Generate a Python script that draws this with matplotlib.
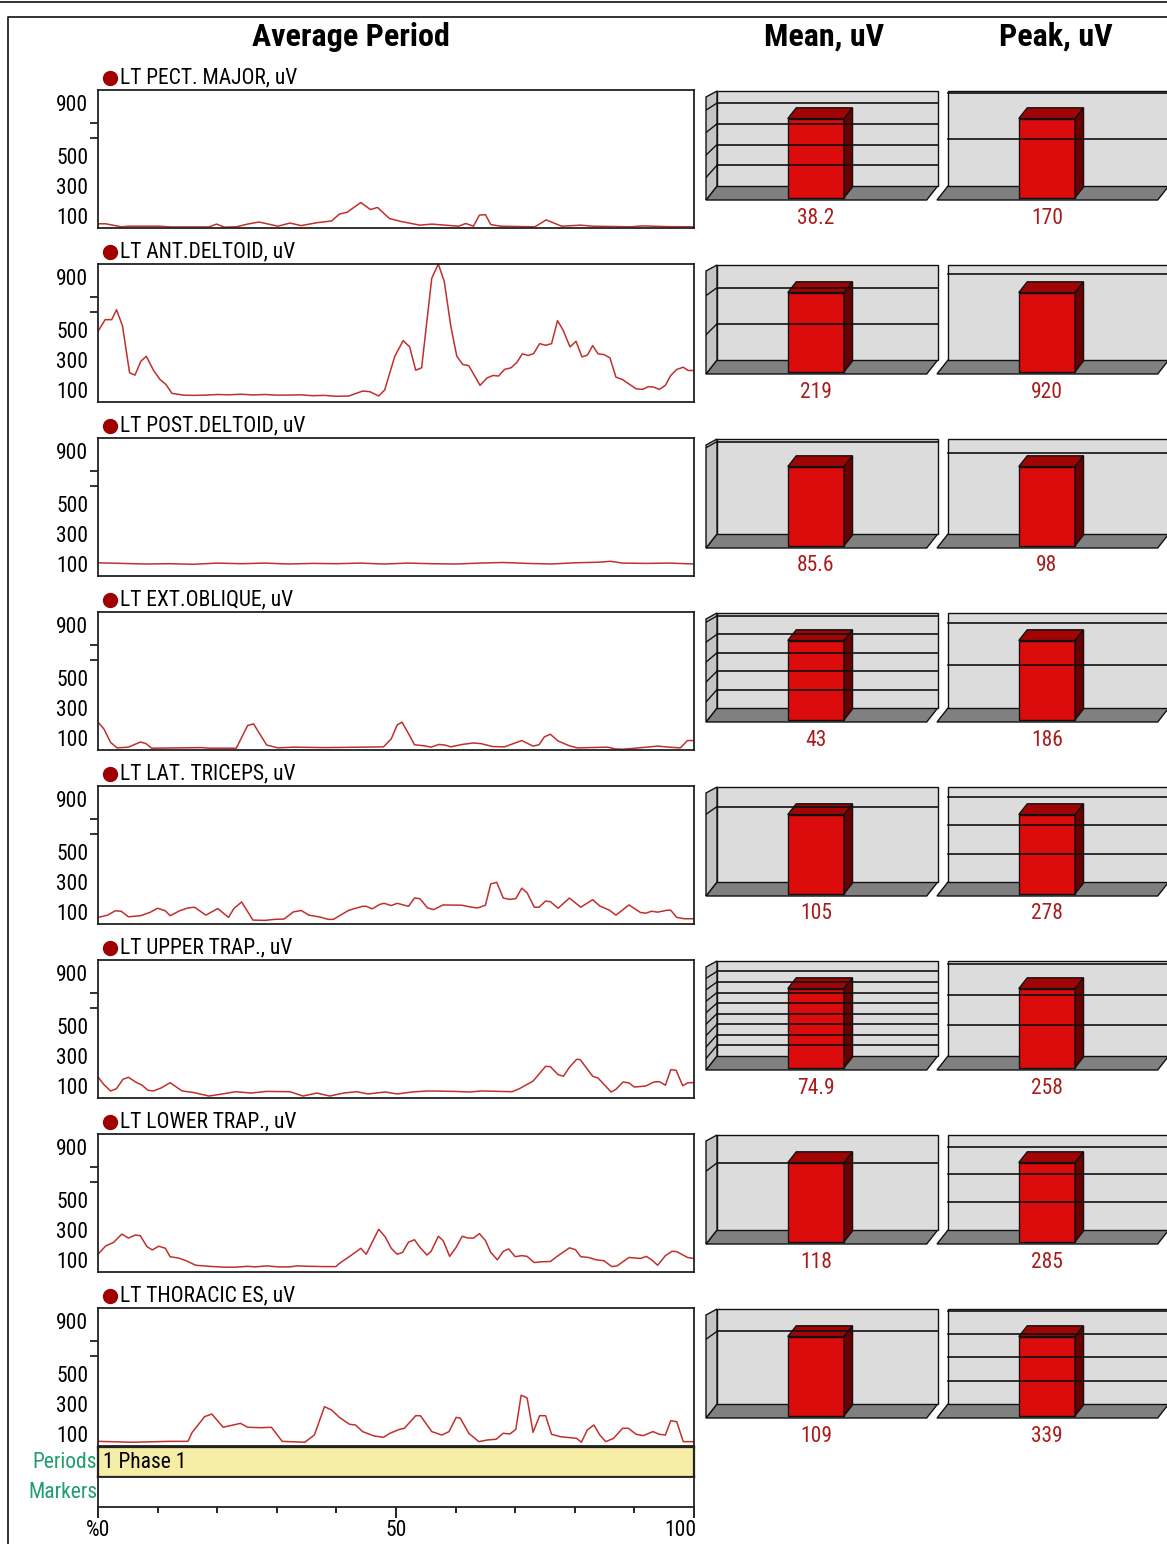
"""
EMG summary sheet: average-period traces per muscle with mean / peak 3-D bars.
"""
import numpy as np
import matplotlib
matplotlib.use("Agg")
import matplotlib.pyplot as plt  # noqa: E402
from matplotlib import font_manager as fm  # noqa: E402
from matplotlib.patches import Polygon  # noqa: E402
from matplotlib.lines import Line2D  # noqa: E402
from matplotlib.transforms import ScaledTranslation  # noqa: E402

# narrowest sans available: the original sheet uses a condensed Helvetica
_fonts = fm.fontManager.ttflist
_names = {f.name for f in _fonts}
FONT_TAG = "arial-like"
for cand in ["Liberation Sans Narrow", "Roboto Condensed", "Open Sans Condensed"]:
    if cand in _names:
        plt.rcParams["font.family"] = [cand, "DejaVu Sans"]
        FONT_TAG = "narrow"
        break
else:
    if any(f.name == "DejaVu Sans" and "ondensed" in f.fname for f in _fonts):
        plt.rcParams["font.family"] = ["DejaVu Sans"]
        plt.rcParams["font.stretch"] = "condensed"
        FONT_TAG = "dejavu-condensed"
    else:
        plt.rcParams["font.family"] = ["Liberation Sans", "DejaVu Sans"]

W, H = 1167, 1544

MUSCLES = ["LT PECT. MAJOR, uV", "LT ANT.DELTOID, uV", "LT POST.DELTOID, uV",
           "LT EXT.OBLIQUE, uV", "LT LAT. TRICEPS, uV", "LT UPPER TRAP., uV",
           "LT LOWER TRAP., uV", "LT THORACIC ES, uV"]
MEAN_UV = [38.2, 219, 85.6, 43, 105, 74.9, 118, 109]
PEAK_UV = [170, 920, 98, 186, 278, 258, 285, 339]
MEAN_TXT = ["38.2", "219", "85.6", "43", "105", "74.9", "118", "109"]
PEAK_TXT = ["170", "920", "98", "186", "278", "258", "285", "339"]

# average-period traces, % of period vs uV
PECT_X = [0, 1.3, 3.9, 5.1, 10.3, 12.2, 18.6, 19.9, 21.2, 23.2, 25.1, 27, 30.2, 32.2,
          34.1, 36.7, 39.2, 40.5, 41.8, 44.1, 45.7, 46.9, 48.9, 50.8, 54, 56, 60.5,
          61.7, 63, 64, 65, 65.9, 67.5, 73.3, 75.2, 77.8, 81, 83, 89.4, 91.3, 95.8, 100]
PECT_Y = [28, 28, 8, 12, 12, 7, 7, 26, 6, 8, 26, 40, 12, 33, 16, 35, 47, 93, 105, 170,
          123, 137, 63, 44, 19, 26, 12, 30, 12, 86, 89, 23, 12, 8, 54, 12, 19, 12, 8, 14, 9, 8]

ANT_X = [0, 1.2, 2.3, 3.1, 4.1, 5.3, 6.2, 7.2, 8.1, 9.3, 10.4, 11.4, 12.4, 14.3, 16, 18.1,
         20, 22, 24, 26, 28, 30, 32, 34, 36, 38, 40, 42.1, 44.4, 45.6, 47.1, 48.1, 49.8,
         51.2, 52.3, 53.3, 54.3, 56, 57.1, 58.1, 59.2, 60.2, 61.2, 62.2, 64.1, 65.3, 66.3,
         67.2, 68.2, 69.3, 70.3, 71.2, 72.2, 73.1, 74.1, 75.1, 76.1, 77.1, 78, 79.2, 80.2,
         81.2, 82.1, 83, 83.9, 84.9, 85.9, 86.9, 88, 89.2, 90.3, 91.4, 92.3, 93.2, 94.2,
         95.2, 96.1, 97.1, 98.2, 99, 100]
ANT_Y = [471, 549, 549, 615, 509, 195, 179, 272, 305, 212, 150, 117, 58, 46, 44, 46, 50,
         48, 52, 47, 50, 46, 46, 48, 42, 44, 38, 40, 73, 69, 40, 80, 305, 409, 367, 212,
         228, 825, 920, 803, 504, 305, 250, 243, 111, 161, 177, 173, 217, 228, 265, 321,
         310, 323, 389, 378, 389, 542, 482, 367, 405, 301, 312, 376, 321, 316, 294, 166,
         150, 117, 88, 84, 102, 100, 84, 111, 177, 217, 232, 210, 210]

POST_X = [0, 4, 8, 12, 16, 20, 24, 28, 32, 36, 40, 44, 48, 52, 56, 60, 64, 68, 72, 76,
          80, 84, 86, 88, 92, 96, 100]
POST_Y = [88, 84, 80, 82, 78, 86, 82, 86, 80, 84, 82, 86, 80, 86, 82, 80, 86, 90, 84, 80,
          88, 92, 98, 86, 84, 86, 80]

EXT_X = [0, 1, 2.1, 3.2, 5.1, 7.1, 8, 9, 17.4, 18.6, 23.2, 25.1, 26.1, 27, 28.3, 30.2,
         32.8, 37.9, 44.4, 47.9, 49.2, 50.2, 51, 52.1, 53.1, 54.7, 55.9, 57.2, 58.2, 59.2,
         61.1, 63, 64.3, 66.2, 68.2, 71.1, 73, 74, 74.9, 75.9, 77.2, 79.1, 80.4, 85.5,
         86.8, 88.1, 90.7, 93.9, 95.8, 97.7, 98.9, 100]
EXT_Y = [186, 140, 51, 14, 19, 53, 44, 12, 16, 12, 12, 163, 174, 116, 33, 14, 19, 16, 19,
         21, 74, 167, 186, 109, 35, 28, 19, 37, 33, 21, 37, 47, 42, 23, 21, 63, 26, 35,
         88, 105, 60, 28, 14, 19, 7, 5, 14, 26, 19, 14, 63, 63]

TRI_X = [0, 1.6, 2.9, 3.9, 5.1, 7.1, 8.7, 10, 11.3, 12.1, 13.8, 15.1, 16.2, 18.1, 20.1,
         21.9, 22.8, 24.1, 26, 28, 29.6, 31.2, 32.8, 34.1, 35.4, 37.3, 38.6, 39.5, 42.1,
         44.4, 45, 46, 47.3, 48, 49.2, 50.2, 52.1, 53.1, 54, 55.3, 56.3, 57.9, 61.1, 62.7,
         63.7, 65, 65.9, 66.9, 68, 69.1, 70.1, 71.1, 72, 73.2, 74, 75.1, 75.9, 77.2, 79.1,
         81, 83, 84.2, 85.8, 86.9, 89.1, 91, 91.9, 92.9, 93.9, 95.5, 96.1, 97.1, 98.4, 100]
TRI_Y = [44, 59, 88, 85, 48, 55, 77, 105, 88, 55, 90, 107, 112, 59, 103, 44, 103, 147, 26,
         24, 31, 33, 81, 90, 59, 46, 31, 31, 92, 118, 118, 101, 131, 138, 123, 138, 118,
         173, 169, 107, 96, 127, 125, 112, 107, 125, 267, 278, 173, 164, 169, 239, 208,
         112, 112, 153, 149, 105, 173, 112, 162, 120, 92, 59, 127, 77, 72, 85, 79, 92, 92,
         44, 35, 35]

UTRAP_X = [0, 1, 2.1, 3.1, 4.2, 5.1, 6.3, 7.4, 8.4, 9.3, 10.6, 12.1, 14.1, 16.1, 18.6,
           21.2, 23.1, 25.7, 28.3, 32.2, 34.4, 36.7, 38.9, 41.2, 43.4, 45.3, 48.2, 50.2,
           52.7, 55.3, 59.8, 62.4, 64.3, 69.5, 70.7, 73, 75.1, 75.9, 77.2, 78.1, 79.1,
           80.3, 80.9, 83, 83.9, 86.1, 86.9, 88.1, 89.1, 90, 91.9, 93.3, 94.2, 95.2, 96.1,
           97, 98.1, 99, 100]
UTRAP_Y = [140, 89, 47, 62, 125, 138, 107, 85, 51, 47, 67, 102, 47, 36, 13, 29, 42, 33,
           44, 42, 13, 33, 13, 33, 42, 27, 40, 27, 40, 47, 44, 40, 47, 42, 62, 113, 211,
           209, 156, 145, 205, 258, 256, 145, 133, 40, 58, 107, 100, 73, 80, 107, 109, 85,
           189, 185, 82, 102, 102]

LTRAP_X = [0, 1.3, 2.6, 4, 5.1, 6.3, 7.1, 8.2, 9.1, 10.2, 11.3, 12.1, 13.5, 14.8, 16.4,
           18.6, 21.2, 23.1, 25.1, 26.4, 28.3, 30.2, 32.2, 33.4, 35.4, 37.9, 39.9, 40.5,
           42.4, 44.1, 45, 47.1, 48.2, 49.2, 50.2, 51.1, 52.1, 53.1, 54, 55.2, 55.9, 57.1,
           57.9, 59, 60.1, 61.1, 62.1, 63, 64, 65, 65.9, 67, 68, 68.9, 70, 71.1, 72, 73.2,
           74.3, 75.9, 77.2, 79.1, 80.1, 81, 82.3, 83.6, 84.9, 86.2, 87.1, 89.1, 91, 92,
           92.9, 93.9, 95.2, 96.3, 97.1, 98.9, 100]
LTRAP_Y = [118, 174, 197, 253, 226, 247, 242, 170, 147, 172, 158, 102, 93, 75, 45, 38,
           32, 32, 38, 34, 41, 34, 34, 41, 38, 36, 36, 57, 109, 158, 118, 285, 233, 158,
           118, 131, 199, 215, 165, 113, 138, 238, 210, 104, 165, 238, 226, 226, 256, 210,
           131, 81, 138, 154, 102, 109, 104, 63, 68, 70, 109, 161, 149, 102, 97, 81, 75,
           36, 41, 97, 90, 104, 81, 45, 109, 138, 136, 97, 90]

THOR_X = [0, 5.8, 12, 15.1, 15.8, 17.9, 19.1, 21, 23.9, 25.1, 27.4, 29.1, 30.9, 34.7,
          36.3, 38, 39.2, 40.5, 42.2, 43.2, 44.4, 46.3, 47.9, 49, 50.6, 51.4, 53.3, 54.1,
          56, 57.7, 58.9, 60.1, 60.8, 62.2, 63.9, 65.3, 66.8, 68, 69.1, 70.1, 71, 72, 73,
          74.1, 75.1, 76.1, 77.6, 80.3, 81.1, 82.1, 83.2, 84.2, 85.2, 86.5, 88, 89, 90.3,
          91.5, 93.1, 94.2, 95.2, 96.1, 97.1, 98.2, 100]
THOR_Y = [31, 25, 31, 31, 91, 196, 213, 125, 151, 125, 122, 125, 31, 25, 73, 262, 240,
          191, 145, 140, 96, 67, 58, 85, 111, 118, 202, 202, 96, 73, 96, 191, 185, 85, 29,
          40, 45, 85, 80, 111, 339, 320, 91, 202, 202, 78, 62, 51, 25, 107, 140, 73, 29,
          51, 118, 118, 78, 69, 96, 78, 73, 169, 162, 29, 29]

TRACES = [(PECT_X, PECT_Y), (ANT_X, ANT_Y), (POST_X, POST_Y), (EXT_X, EXT_Y),
          (TRI_X, TRI_Y), (UTRAP_X, UTRAP_Y), (LTRAP_X, LTRAP_Y), (THOR_X, THOR_Y)]

Y_MAX = 920
Y_TICKS = [100, 300, 500, 900]
Y_MINOR = [600, 700, 900]
X_TICKS = [0, 50, 100]
X_LABELS = ["%0", "50", "100"]

LINE_C = "#c0302f"
DOT_C = "#a00000"
VAL_C = "#a81c1c"
GREEN = "#1f9e6e"
# sizes tuned so text widths match the condensed original
if FONT_TAG == "narrow":
    FS, FS_NAME, FS_TITLE = 15.5, 15.5, 23
elif FONT_TAG == "dejavu-condensed":
    FS, FS_NAME, FS_TITLE = 14, 14.5, 20
else:
    FS, FS_NAME, FS_TITLE = 14, 14, 20

ROW0, ROW_STEP, PLOT_H = 90, 174, 138
PX_L, PX_W = 98, 596


def fig_rect(x0, top, w, h):
    return [x0 / W, 1 - (top + h) / H, w / W, h / H]


def line_panel(fig, k, name, xs, ys):
    top = ROW0 + ROW_STEP * k
    ax = fig.add_axes(fig_rect(PX_L, top, PX_W, PLOT_H))
    ax.plot(xs, ys, color=LINE_C, lw=1.1)
    ax.set_xlim(0, 100)
    ax.set_ylim(0, Y_MAX)
    ax.set_xticks([])
    ax.set_yticks(Y_TICKS, [str(t) for t in Y_TICKS])
    ax.set_yticks(Y_MINOR, minor=True)
    ax.tick_params(axis="y", which="major", length=0, pad=7, labelsize=FS)
    ax.tick_params(axis="y", which="minor", length=6, width=1.3, color="#222")
    for lab, t in zip(ax.get_yticklabels(), Y_TICKS):
        dy = 7.0 if t == 900 else 2.5
        lab.set_transform(lab.get_transform()
                          + ScaledTranslation(0, -dy / 72, fig.dpi_scale_trans))
    for s in ax.spines.values():
        s.set_linewidth(1.3)
        s.set_color("#222")
    ax.plot([0.02], [1.09], "o", ms=10, color=DOT_C, transform=ax.transAxes,
            clip_on=False)
    ax.text(0.037, 1.09, name, transform=ax.transAxes, va="center", ha="left",
            fontsize=FS_NAME)
    return ax


def bar_panel(fig, k, left_px, value, text, side_wall):
    top = ROW0 + ROW_STEP * k
    ax = fig.add_axes(fig_rect(left_px, top, 235, 110))
    ax.set_axis_off()
    ymax = 1.2 * value
    u = ymax / 95.0                    # value units per pixel of wall height
    ax.set_xlim(0, 235)
    ax.set_ylim(0, 110 * u)
    dx, dy = 11.0, 14.0 * u            # oblique depth offset

    def P(x, v, d):
        return (x + dx * d, v + dy * d)

    ww = 220.7
    kw = dict(ec="#111", lw=1.0, clip_on=False)
    ax.add_patch(Polygon([P(0, 0, 0), P(ww, 0, 0), P(ww, 0, 1), P(0, 0, 1)],
                         fc="#808080", **kw))
    ax.add_patch(Polygon([P(0, 0, 1), P(ww, 0, 1), P(ww, ymax, 1), P(0, ymax, 1)],
                         fc="#dcdcdc", **kw))
    step = 10 ** np.floor(np.log10(ymax))
    grid = np.arange(step, ymax, step)
    if side_wall:
        ax.add_patch(Polygon([(0, 0), P(0, 0, 1), P(0, ymax, 1), (0, 1.084 * ymax)],
                             fc="#c4c4c4", **kw))
        for g in grid:
            ax.plot([0, dx], [1.084 * g, g + dy], color="#111", lw=1.0)
    for g in grid:
        ax.plot([dx, dx + ww], [g + dy, g + dy], color="#111", lw=1.2)

    x0, x1 = 80.0, 136.3
    d0, d1 = 0.16, 0.93
    ax.add_patch(Polygon([P(x0, 0, d0), P(x1, 0, d0), P(x1, value, d0), P(x0, value, d0)],
                         fc="#dc0c0c", **kw))
    ax.add_patch(Polygon([P(x0, value, d0), P(x1, value, d0), P(x1, value, d1),
                          P(x0, value, d1)], fc="#a00404", **kw))
    ax.add_patch(Polygon([P(x1, 0, d0), P(x1, 0, d1), P(x1, value, d1), P(x1, value, d0)],
                         fc="#6a0000", **kw))
    ax.text((x0 + x1) / 2 + dx * d0, -18 * u, text, ha="center", va="center",
            fontsize=FS, color=VAL_C)


fig = plt.figure(figsize=(W / 100, H / 100), dpi=100)

# frame
fig.add_artist(Line2D([0, 1], [1 - 1.5 / H] * 2, color="#222", lw=1.3))
fig.add_artist(Line2D([8 / W, 8 / W, 1], [0, 1 - 17 / H, 1 - 17 / H], color="#222", lw=1.3))

fig.text(351 / W, 1 - 37 / H, "Average Period", ha="center", va="center",
         fontsize=FS_TITLE, fontweight="bold")
fig.text(824 / W, 1 - 37 / H, "Mean, uV", ha="center", va="center",
         fontsize=FS_TITLE, fontweight="bold")
fig.text(1056 / W, 1 - 37 / H, "Peak, uV", ha="center", va="center",
         fontsize=FS_TITLE, fontweight="bold")

for k, (name, (xs, ys)) in enumerate(zip(MUSCLES, TRACES)):
    line_panel(fig, k, name, xs, ys)
    bar_panel(fig, k, 706, MEAN_UV[k], MEAN_TXT[k], True)
    bar_panel(fig, k, 937, PEAK_UV[k], PEAK_TXT[k], False)

# periods / markers strips
axp = fig.add_axes(fig_rect(PX_L, 1447, PX_W, 30))
axp.set_facecolor("#f5eca5")
axp.set_xlim(0, 100)
axp.set_xticks([])
axp.set_yticks([])
for s in axp.spines.values():
    s.set_linewidth(1.6)
    s.set_color("#222")
axp.text(0.008, 0.5, "1 Phase 1", transform=axp.transAxes, ha="left", va="center",
         fontsize=FS)

axm = fig.add_axes(fig_rect(PX_L, 1477, PX_W, 30))
axm.set_xlim(0, 100)
axm.set_yticks([])
axm.set_xticks(X_TICKS, X_LABELS)
axm.set_xticks(np.arange(10, 100, 10), minor=True)
axm.tick_params(axis="x", which="major", length=8, width=1.2, pad=1.0, labelsize=FS)
axm.tick_params(axis="x", which="minor", length=4, width=1.2)
axm.get_xticklabels()[-1].set_ha("right")
axm.get_xticklabels()[-1].set_transform(
    axm.get_xticklabels()[-1].get_transform()
    + ScaledTranslation(2 / 72, 0, fig.dpi_scale_trans))
for s in axm.spines.values():
    s.set_linewidth(1.3)
    s.set_color("#222")

fig.text(97 / W, 1 - 1462 / H, "Periods", ha="right", va="center", fontsize=FS,
         color=GREEN)
fig.text(97 / W, 1 - 1492 / H, "Markers", ha="right", va="center", fontsize=FS,
         color=GREEN)

fig.savefig("out.png", dpi=100)
